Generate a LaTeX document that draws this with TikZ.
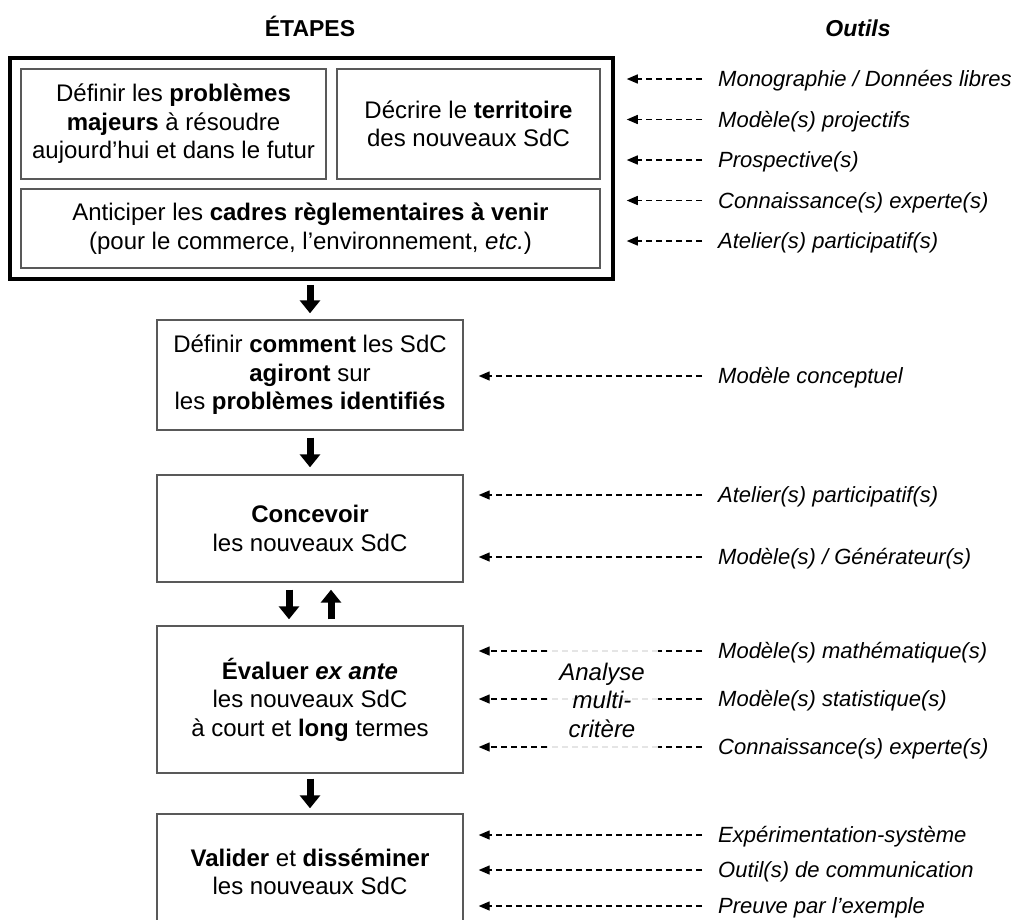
\documentclass[tikz,border=0pt]{standalone}
\usepackage{fontspec}
\setmainfont{Liberation Sans}
\usetikzlibrary{arrows.meta,calc}
\begin{document}
\begin{tikzpicture}[x=1pt,y=-1pt,
  boxtext/.style={font=\fontsize{24}{28.5}\selectfont, align=center},
  inner/.style={draw=black!65, line width=1.3pt, boxtext, inner sep=0pt},
  stepbox/.style={draw=black!65, line width=1.4pt, boxtext, inner sep=0pt, minimum width=306pt},
  outerbox/.style={draw=black, line width=3.5pt, inner sep=0pt, minimum width=603pt, minimum height=221pt},
  tool/.style={font=\fontsize{22}{26}\selectfont\itshape, anchor=west, inner sep=0pt, text height=15.8pt, text depth=0pt},
  bigarrow/.style={line width=7pt, -{Triangle[width=20pt,length=13pt]}},
  tooldash/.style={line width=1.4pt, dash pattern=on 6pt off 4pt, -{Triangle[width=9pt,length=11pt]}},
  dashonly/.style={line width=1.4pt, dash pattern=on 6pt off 4pt},
  faint/.style={line width=1.3pt, dash pattern=on 6pt off 4pt, draw=black!10},
  header/.style={font=\fontsize{23}{26}\selectfont\bfseries, anchor=base, inner sep=0pt}
]
\useasboundingbox (0,0) rectangle (1017,919);

% headers
\node[header] (hetapes) at (310,36) {ÉTAPES};
\node[header, font=\fontsize{23}{26}\selectfont\bfseries\itshape] (houtils) at (858,36) {Outils};

% top group
\node[outerbox] (outer) at (311.5,168.5) {};
\node[inner, minimum width=305pt, minimum height=110pt] (b1) at (173.5,124)
  {Définir les \textbf{problèmes}\\\textbf{majeurs} à résoudre\\aujourd’hui et dans le futur};
\node[inner, minimum width=263pt, minimum height=110pt] (b2) at (468.5,124)
  {Décrire le \textbf{territoire}\\des nouveaux SdC};
\node[inner, minimum width=579pt, minimum height=79pt] (b3) at (310.5,228.5)
  {Anticiper les \textbf{cadres règlementaires à venir}\\(pour le commerce, l’environnement, \textit{etc.})};

% steps
\node[stepbox, minimum height=110pt] (comment) at (310,375)
  {Définir \textbf{comment} les SdC\\\textbf{agiront} sur\\les \textbf{problèmes identifiés}};
\node[stepbox, minimum height=107pt] (concevoir) at (310,528.5)
  {\textbf{Concevoir}\\les nouveaux SdC};
\node[stepbox, minimum height=147pt] (evaluer) at (310,699.5)
  {\textbf{Évaluer \textit{ex ante}}\\les nouveaux SdC\\à court et \textbf{long} termes};
\node[stepbox, minimum height=116pt] (valider) at (310,872)
  {\textbf{Valider} et \textbf{disséminer}\\les nouveaux SdC};

% big arrows
\draw[bigarrow] ([yshift=-4pt]comment.north |- outer.south) -- ([yshift=6pt]comment.north);
\draw[bigarrow] ([yshift=-7pt]comment.south) -- ([yshift=7pt]concevoir.north);
\draw[bigarrow] ([xshift=-21pt,yshift=-7pt]concevoir.south) -- ([xshift=-21pt,yshift=6pt]evaluer.north);
\draw[bigarrow] ([xshift=21pt,yshift=6pt]evaluer.north) -- ([xshift=21pt,yshift=-7pt]concevoir.south);
\draw[bigarrow] ([yshift=-5pt]evaluer.south) -- ([yshift=5pt]valider.north);

% tools: top group
\node[tool] (t1) at (718,79) {Monographie / Données libres};
\node[tool] (t2) at (718,119.5) {Modèle(s) projectifs};
\node[tool] (t3) at (718,160) {Prospective(s)};
\node[tool] (t4) at (718,200.5) {Connaissance(s) experte(s)};
\node[tool] (t5) at (718,241) {Atelier(s) participatif(s)};
\foreach \t in {t1,t2,t3,t4,t5}
  \draw[tooldash] ([xshift=-16pt]\t.west) -- ([xshift=12pt]outer.east |- \t.west);

% comment
\node[tool] (t6) at (718,376) {Modèle conceptuel};
\draw[tooldash] ([xshift=-16pt]t6.west) -- ([xshift=15pt]comment.east |- t6.west);

% concevoir
\node[tool] (t7) at (718,495) {Atelier(s) participatif(s)};
\node[tool] (t8) at (718,557) {Modèle(s) / Générateur(s)};
\foreach \t in {t7,t8}
  \draw[tooldash] ([xshift=-16pt]\t.west) -- ([xshift=15pt]concevoir.east |- \t.west);

% evaluer
\node[tool] (t9) at (718,651) {Modèle(s) mathématique(s)};
\node[tool] (t10) at (718,699) {Modèle(s) statistique(s)};
\node[tool] (t11) at (718,747) {Connaissance(s) experte(s)};
\foreach \t in {t9,t10,t11}{
  \draw[dashonly] ([xshift=-16pt]\t.west) -- ([xshift=-60pt]\t.west);
  \draw[faint] ([xshift=-60pt]\t.west) -- ([xshift=-171pt]\t.west);
  \draw[tooldash] ([xshift=-171pt]\t.west) -- ([xshift=15pt]evaluer.east |- \t.west);
}
\node[font=\fontsize{24}{28.5}\selectfont\itshape, align=center, inner sep=0pt] (ana) at (602,700)
  {Analyse\\multi-\\critère};

% valider
\node[tool] (t12) at (718,835) {Expérimentation-système};
\node[tool] (t13) at (718,870) {Outil(s) de communication};
\node[tool] (t14) at (718,906) {Preuve par l’exemple};
\foreach \t in {t12,t13,t14}
  \draw[tooldash] ([xshift=-16pt]\t.west) -- ([xshift=15pt]valider.east |- \t.west);
\end{tikzpicture}
\end{document}
